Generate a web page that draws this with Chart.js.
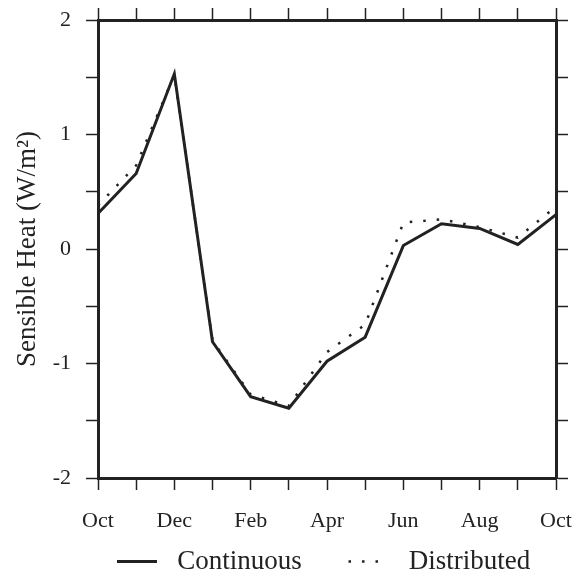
<!DOCTYPE html>
<html>
<head>
<meta charset="utf-8">
<script src="https://cdn.jsdelivr.net/npm/chart.js@4/dist/chart.umd.min.js"></script>
<style>
  html, body { margin: 0; padding: 0; background: #fff; }
  #wrap { width: 584px; height: 573px; position: relative; }
</style>
</head>
<body>
<div id="wrap"><canvas id="c" width="584" height="573"></canvas></div>
<script>
const months = ['Oct','Nov','Dec','Jan','Feb','Mar','Apr','May','Jun','Jul','Aug','Sep','Oct'];
const continuous  = [0.31, 0.66, 1.53, -0.81, -1.29, -1.39, -0.98, -0.77, 0.03, 0.22, 0.18, 0.04, 0.30];
const distributed = [0.38, 0.73, 1.52, -0.80, -1.27, -1.37, -0.90, -0.66, 0.23, 0.26, 0.19, 0.10, 0.37];
const yTickLabels = ['-2', '-1', '0', '1', '2'];
const seriesNames = ['Continuous', 'Distributed'];
const yTitle = 'Sensible Heat (W/m\u00B2)';

const INK = '#222';
const FONT = "'Liberation Serif', 'Times New Roman', serif";

const tickGrid = { drawOnChartArea: false, drawTicks: true, tickLength: 12, tickWidth: 1.5, tickColor: INK, color: INK };
const border = { display: true, width: 3, color: INK };

function fixBox(dim, size) {
  return (s) => {
    s[dim] = size;
    s.paddingTop = 0; s.paddingBottom = 0; s.paddingLeft = 0; s.paddingRight = 0;
  };
}

new Chart(document.getElementById('c'), {
  type: 'line',
  data: {
    labels: months,
    datasets: [
      { label: seriesNames[0], data: continuous, borderColor: INK, backgroundColor: INK,
        borderWidth: 3, pointRadius: 0, tension: 0, xAxisID: 'x', yAxisID: 'y' },
      { label: seriesNames[1], data: distributed, borderColor: INK, backgroundColor: INK,
        borderWidth: 2.5, borderDash: [2.5, 11], pointRadius: 0, tension: 0, xAxisID: 'x', yAxisID: 'y' }
    ]
  },
  options: {
    responsive: false,
    animation: false,
    devicePixelRatio: 1,
    layout: { padding: { left: 0, right: 0, top: 0, bottom: -12 } },
    plugins: {
      tooltip: { enabled: false },
      legend: {
        display: true,
        position: 'bottom',
        fullSize: false,
        labels: {
          usePointStyle: true,
          pointStyle: 'line',
          pointStyleWidth: 40,
          padding: 13,
          color: INK,
          font: { family: FONT, size: 27 },
          generateLabels: (chart) => {
            const items = Chart.defaults.plugins.legend.labels.generateLabels(chart);
            items.forEach((it, i) => {
              const ds = chart.data.datasets[it.datasetIndex];
              it.text = ' ' + it.text + (i === 0 ? '     ' : ' ');
              it.fontColor = INK;
              it.strokeStyle = ds.borderColor;
              it.lineWidth = ds.borderWidth;
              it.lineDash = ds.borderDash || [];
              it.lineCap = 'butt';
            });
            return items;
          }
        }
      }
    },
    scales: {
      x: {
        type: 'category',
        position: 'bottom',
        offset: false,
        grid: tickGrid,
        border: border,
        ticks: {
          autoSkip: false, maxRotation: 0, minRotation: 0,
          padding: 18, color: INK,
          font: { family: FONT, size: 22 },
          callback: (v, i) => (i % 2 === 0 ? months[i] : '')
        },
        afterFit: fixBox('height', 57)
      },
      x2: {
        type: 'category',
        position: 'top',
        labels: months,
        offset: false,
        grid: tickGrid,
        border: border,
        ticks: { autoSkip: false, maxRotation: 0, minRotation: 0, padding: 0, callback: () => '' },
        afterFit: fixBox('height', 20)
      },
      y: {
        type: 'linear',
        position: 'left',
        min: -2, max: 2,
        grid: tickGrid,
        border: border,
        ticks: {
          stepSize: 0.5, padding: 15, color: INK,
          font: { family: FONT, size: 22 },
          callback: (v) => (Number.isInteger(v) ? yTickLabels[v + 2] : '')
        },
        title: {
          display: true, text: yTitle, color: INK,
          font: { family: FONT, size: 27 },
          padding: { top: 12, bottom: 0 }
        },
        afterFit: fixBox('width', 98)
      },
      y2: {
        type: 'linear',
        position: 'right',
        min: -2, max: 2,
        grid: tickGrid,
        border: border,
        ticks: { stepSize: 0.5, padding: 0, callback: () => '' },
        afterFit: fixBox('width', 28)
      }
    }
  }
});
</script>
</body>
</html>
